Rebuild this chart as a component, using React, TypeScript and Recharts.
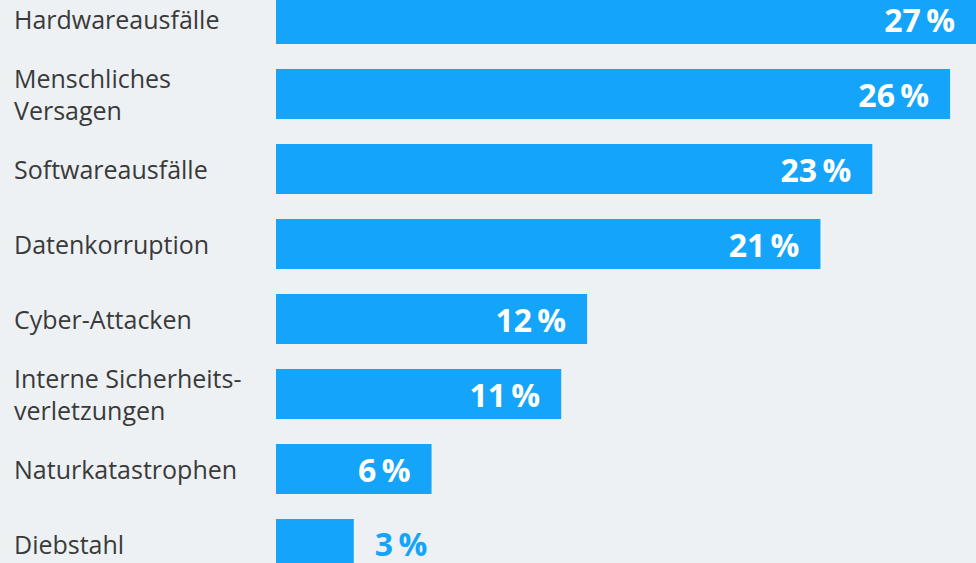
import React from "react";
import { BarChart, Bar, XAxis, YAxis, LabelList } from "recharts";

const categories: string[][] = [
  ["Hardwareausfälle"],
  ["Menschliches", "Versagen"],
  ["Softwareausfälle"],
  ["Datenkorruption"],
  ["Cyber-Attacken"],
  ["Interne Sicherheits-", "verletzungen"],
  ["Naturkatastrophen"],
  ["Diebstahl"],
];
const values: number[] = [27, 26, 23, 21, 12, 11, 6, 3];

const data = categories.map((c, i) => ({ name: c.join(" "), lines: c, value: values[i] }));

const BG = "#edf1f4";
const BLUE = "#14a5fb";
const TEXT = "#3a3a3a";
const FONT = "'Open Sans', 'Noto Sans', sans-serif";

const CategoryTick = (props: any) => {
  const { y, payload, index } = props;
  const lines: string[] = data[index]?.lines ?? [payload.value];
  const lh = 32;
  const startY = y - ((lines.length - 1) * lh) / 2;
  return (
    <text x={14} y={startY} fill={TEXT} fontSize={25} fontFamily={FONT} dominantBaseline="central">
      {lines.map((l, i) => (
        <tspan key={i} x={14} y={startY + i * lh}>
          {l}
        </tspan>
      ))}
    </text>
  );
};

const ValueLabel = (props: any) => {
  const { x, y, width, height, value } = props;
  const inside = value >= 5;
  const cy = y + height / 2;
  const txt = `${value}\u2009%`;
  if (inside) {
    return (
      <text x={x + width - 21} y={cy} textAnchor="end" dominantBaseline="central" fill="#ffffff" fontSize={32} fontWeight={700} fontFamily={FONT}>
        {txt}
      </text>
    );
  }
  return (
    <text x={x + width + 21} y={cy - 1} textAnchor="start" dominantBaseline="central" fill={BLUE} fontSize={32} fontWeight={700} fontFamily={FONT}>
      {txt}
    </text>
  );
};

export default function App() {
  return (
    <div style={{ position: "absolute", left: 0, top: 0, width: 976, height: 563, background: BG, overflow: "hidden" }}>
      <div style={{ position: "absolute", left: 0, top: -19 }}>
        <BarChart width={976} height={600} data={data} layout="vertical" margin={{ top: 0, right: 0, bottom: 0, left: 0 }}>
          <XAxis type="number" domain={[0, 27]} hide />
          <YAxis type="category" dataKey="name" width={276} axisLine={false} tickLine={false} tick={<CategoryTick />} interval={0} />
          <Bar dataKey="value" fill={BLUE} barSize={50} isAnimationActive={false}>
            <LabelList dataKey="value" content={<ValueLabel />} />
          </Bar>
        </BarChart>
      </div>
    </div>
  );
}
